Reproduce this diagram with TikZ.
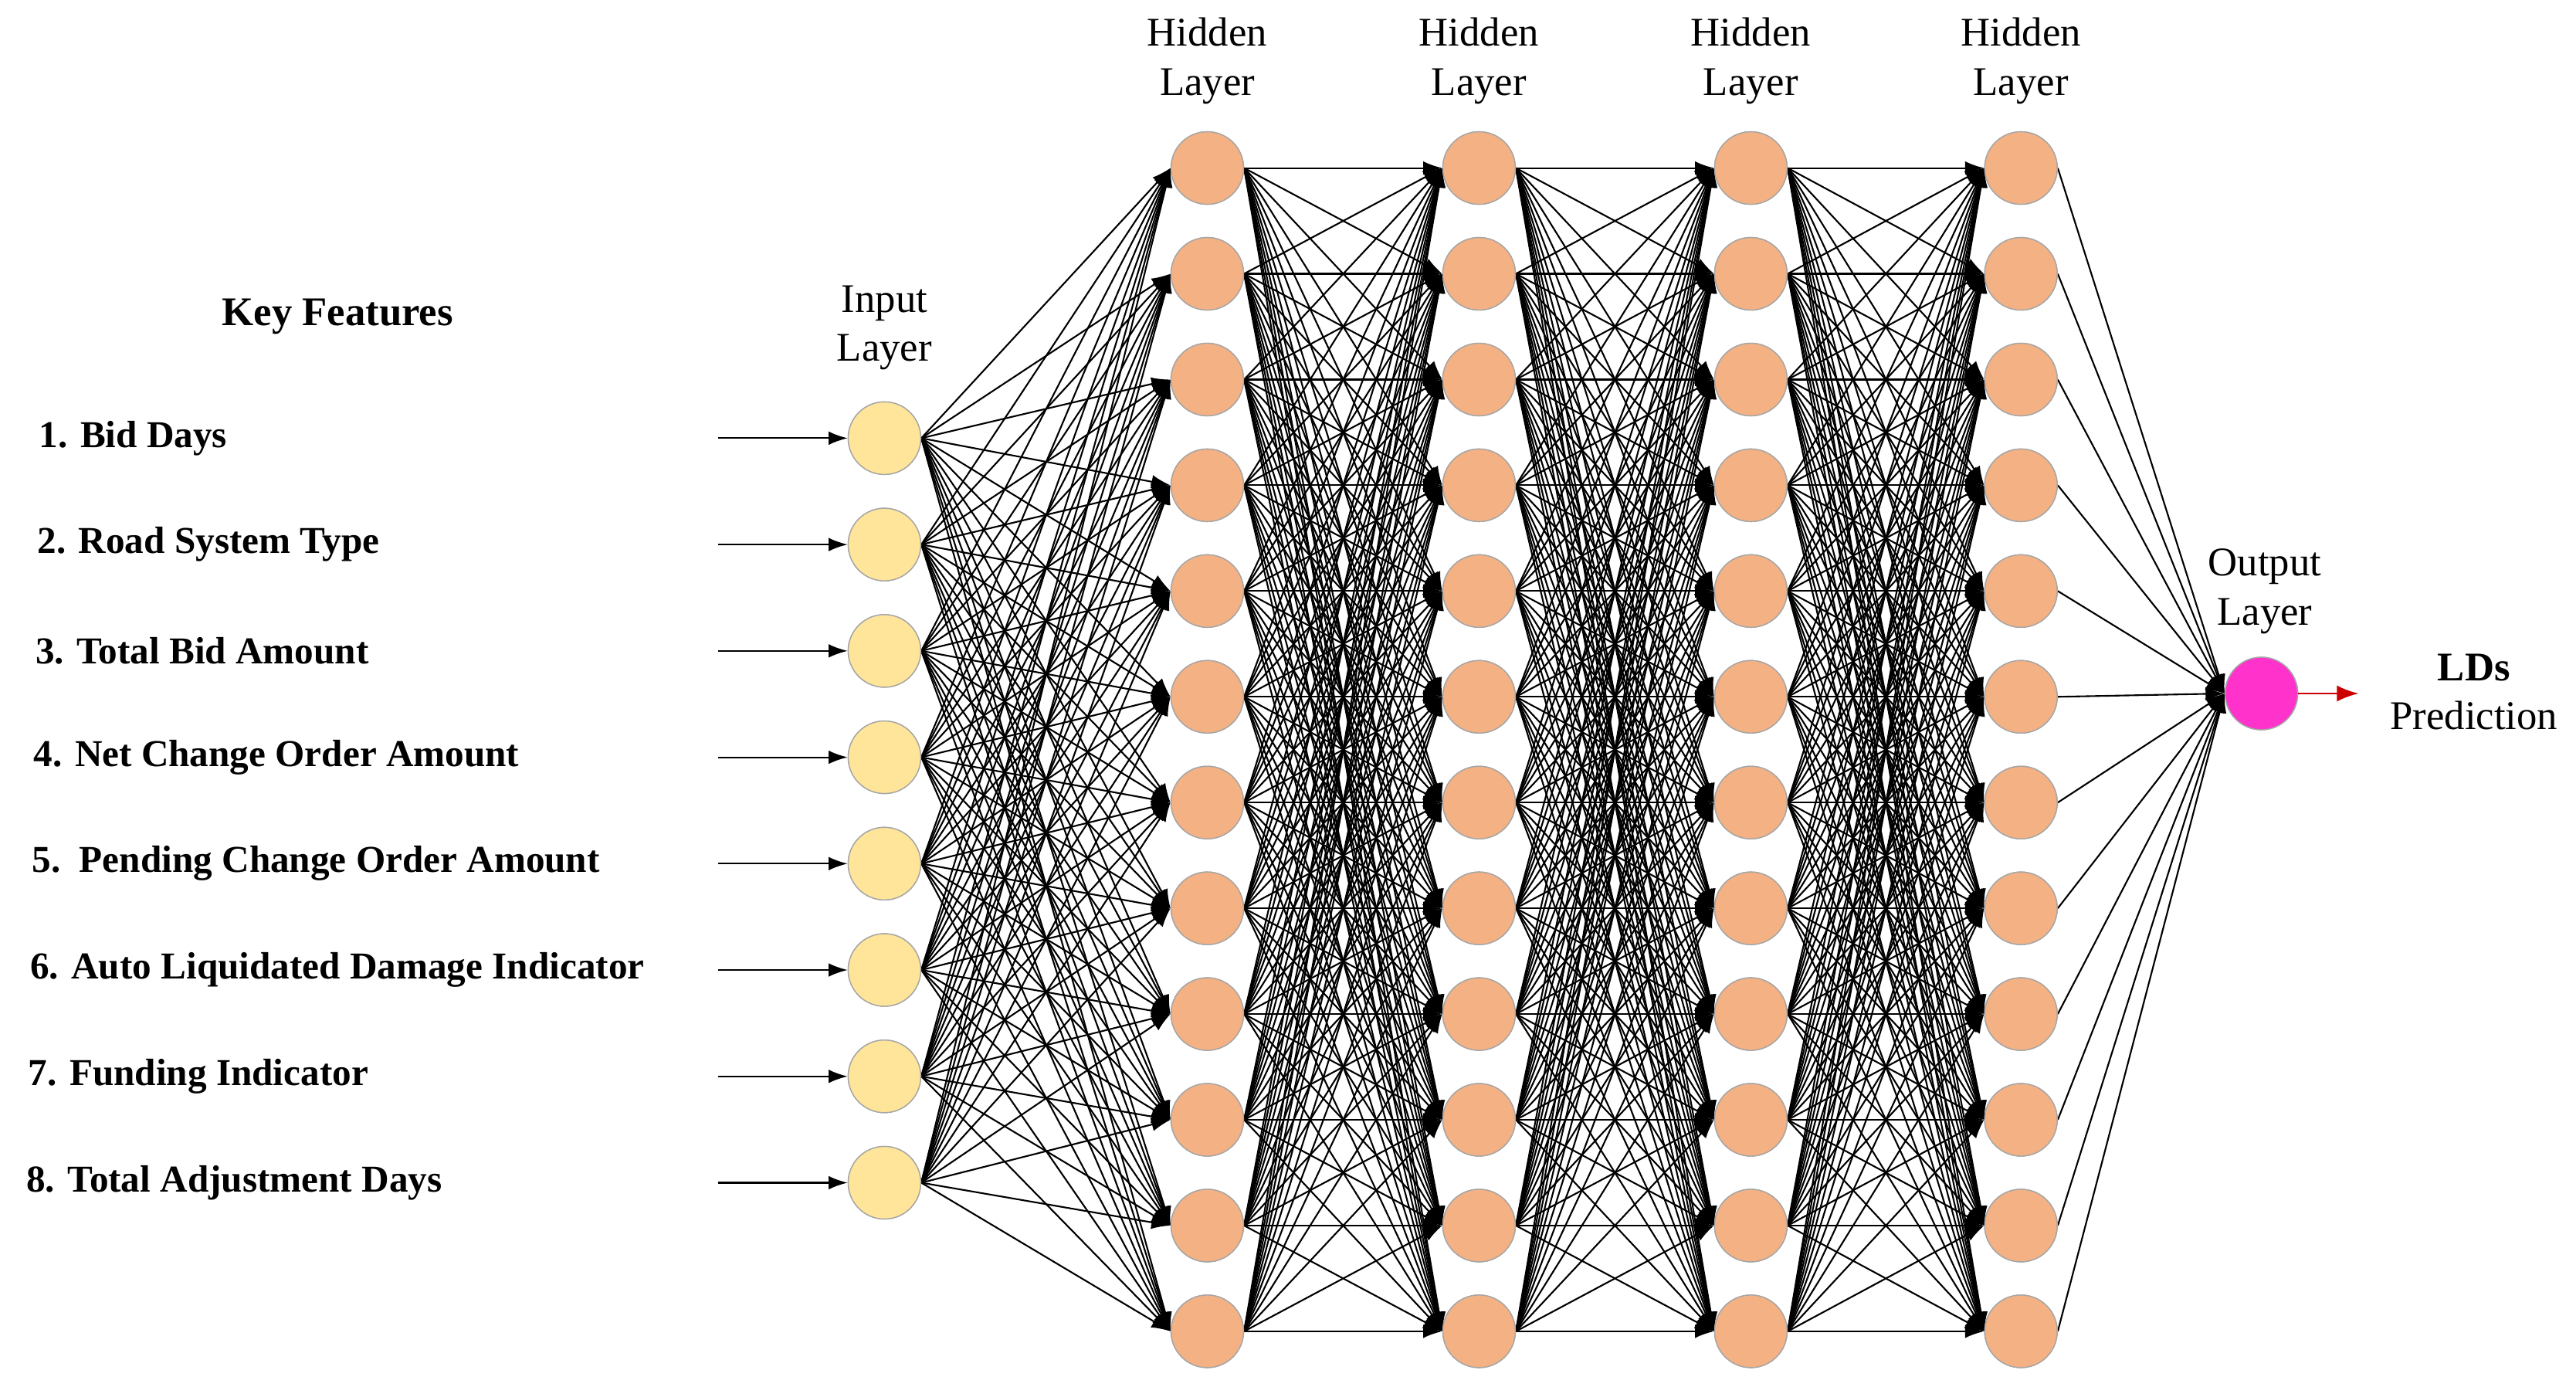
\documentclass[tikz,border=0pt]{standalone}
\usepackage{fontspec}
\setmainfont{Liberation Serif}
\usetikzlibrary{arrows.meta}
\definecolor{inc}{RGB}{255,229,153}
\definecolor{hic}{RGB}{244,177,131}
\definecolor{outc}{RGB}{255,51,204}
\begin{document}
\begin{tikzpicture}[x=0.02133cm,y=-0.02133cm,
  neu/.style={circle,draw=gray!70,line width=0.4pt,minimum size=0.94cm,inner sep=0pt},
  lab/.style={font=\fontsize{15}{18}\selectfont,align=center},
  feat/.style={font=\fontsize{14}{16}\selectfont\bfseries,anchor=west},
  conn/.style={-{Latex[length=7pt,width=5pt]},line width=0.6pt}]
\useasboundingbox (0,0) rectangle (1564,842);
% nodes
\foreach \i in {1,...,8} \node[neu,fill=inc] (i\i) at (537,{266+64.57*(\i-1)}) {};
\foreach \l/\x in {1/733,2/898,3/1063,4/1227}
  \foreach \j in {1,...,12} \node[neu,fill=hic] (h\l-\j) at (\x,{102+64.2*(\j-1)}) {};
\node[neu,fill=outc] (o) at (1373,421) {};
% connections
\foreach \i in {1,...,8} \foreach \j in {1,...,12} \draw[conn] (i\i.east) -- (h1-\j.west);
\foreach \l/\m in {1/2,2/3,3/4}
  \foreach \i in {1,...,12} \foreach \j in {1,...,12} \draw[conn] (h\l-\i.east) -- (h\m-\j.west);
\foreach \i in {1,...,12} \draw[conn] (h4-\i.east) -- (o.west);
% node fills redrawn on top
\foreach \i in {1,...,8} \node[neu,fill=inc] at (i\i) {};
\foreach \l in {1,...,4} \foreach \j in {1,...,12} \node[neu,fill=hic] at (h\l-\j) {};
\node[neu,fill=outc] at (o) {};
\coordinate (oe) at (1432,421);
\draw[-{Latex[length=8pt,width=6pt]},red!80!black,line width=0.8pt] (o) -- (oe);
% labels
\foreach \x in {733,898,1063,1227} \node[lab] at (\x,37) {Hidden\\Layer};
\node[lab] at (537,199) {Input\\Layer};
\node[lab] at (1375,359) {Output\\Layer};
\node[lab] at (1502,420) {\textbf{LDs}\\Prediction};
\node[font=\fontsize{15}{18}\selectfont\bfseries] at (205,192) {Key Features};
\foreach \t [count=\i] in {1. Bid Days,2. Road System Type,3. Total Bid Amount,4. Net Change Order Amount,5.\ \ Pending Change Order Amount,6. Auto Liquidated Damage Indicator,7. Funding Indicator,8. Total Adjustment Days}{
  \node[feat] at ({18-1.1*(\i-1)},{266+64.57*(\i-1)}) {\t};
  \coordinate (s\i) at (436,{266+64.57*(\i-1)});
  \draw[conn] (s\i) -- (i\i.west);
}
\end{tikzpicture}
\end{document}
